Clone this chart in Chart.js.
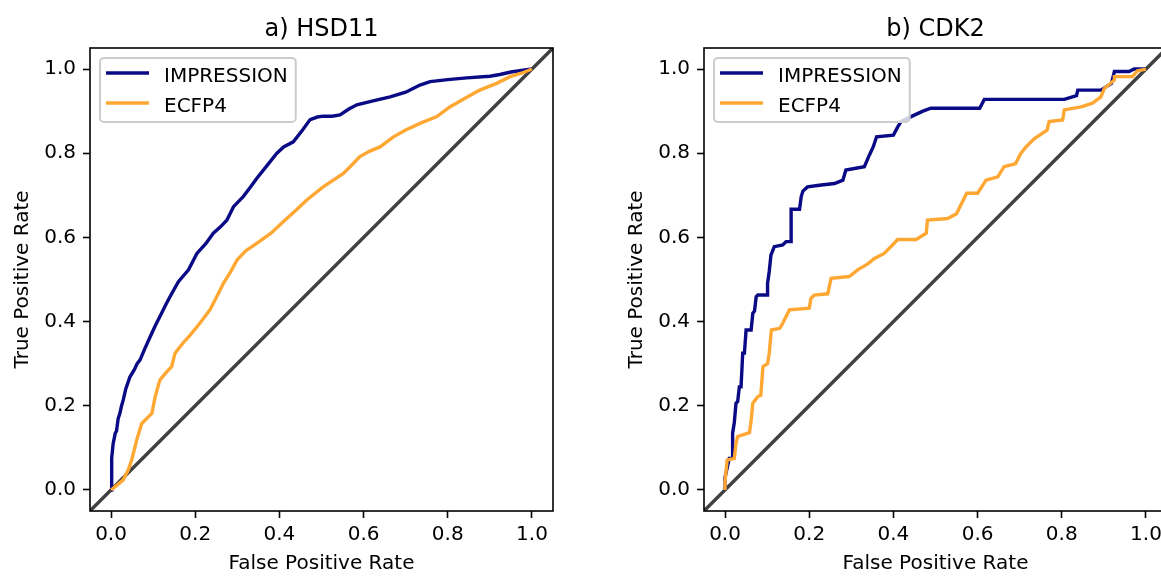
<!DOCTYPE html>
<html>
<head>
<meta charset="utf-8">
<script src="https://cdn.jsdelivr.net/npm/chart.js@4/dist/chart.umd.min.js"></script>
<style>
  html, body { margin: 0; padding: 0; background: #ffffff; overflow: hidden; width: 1161px; height: 576px; }
  canvas { position: absolute; top: 0; }
  #left { left: 0; }
  #right { left: 614px; }
</style>
</head>
<body>
<canvas id="left" width="580" height="576"></canvas>
<canvas id="right" width="580" height="576"></canvas>
<script>
// ROC curves, panel a) HSD11
const hsdImpressionFpr = [0.000, 0.001, 0.002, 0.005, 0.010, 0.013, 0.017, 0.021, 0.025, 0.029, 0.035, 0.045, 0.055, 0.062, 0.069, 0.080, 0.093, 0.105, 0.120, 0.130, 0.140, 0.160, 0.184, 0.204, 0.225, 0.243, 0.260, 0.275, 0.291, 0.314, 0.330, 0.346, 0.370, 0.394, 0.410, 0.433, 0.455, 0.473, 0.490, 0.504, 0.525, 0.544, 0.565, 0.584, 0.620, 0.663, 0.700, 0.734, 0.758, 0.800, 0.845, 0.900, 0.924, 0.950, 1.000];
const hsdImpressionTpr = [0.000, 0.040, 0.075, 0.110, 0.135, 0.140, 0.170, 0.182, 0.200, 0.214, 0.240, 0.269, 0.285, 0.300, 0.309, 0.335, 0.364, 0.390, 0.420, 0.440, 0.459, 0.495, 0.523, 0.562, 0.585, 0.610, 0.625, 0.641, 0.673, 0.697, 0.718, 0.740, 0.770, 0.800, 0.815, 0.827, 0.855, 0.880, 0.886, 0.888, 0.888, 0.891, 0.905, 0.915, 0.924, 0.934, 0.945, 0.962, 0.970, 0.975, 0.979, 0.983, 0.987, 0.993, 1.000];
const hsdEcfpFpr = [0.000, 0.015, 0.029, 0.041, 0.049, 0.055, 0.061, 0.073, 0.085, 0.097, 0.105, 0.116, 0.130, 0.144, 0.152, 0.170, 0.188, 0.211, 0.235, 0.251, 0.267, 0.285, 0.299, 0.320, 0.346, 0.380, 0.409, 0.440, 0.465, 0.504, 0.552, 0.575, 0.591, 0.615, 0.639, 0.671, 0.700, 0.734, 0.774, 0.805, 0.840, 0.876, 0.916, 0.948, 0.975, 1.000];
const hsdEcfpTpr = [0.000, 0.012, 0.024, 0.048, 0.071, 0.095, 0.119, 0.158, 0.170, 0.182, 0.222, 0.261, 0.278, 0.293, 0.325, 0.348, 0.368, 0.396, 0.428, 0.459, 0.491, 0.520, 0.546, 0.568, 0.586, 0.610, 0.637, 0.665, 0.689, 0.720, 0.752, 0.775, 0.792, 0.805, 0.815, 0.839, 0.855, 0.871, 0.887, 0.910, 0.930, 0.950, 0.966, 0.982, 0.990, 1.000];

// ROC curves, panel b) CDK2
const cdkImpressionFpr = [0.000, 0.000, 0.010, 0.018, 0.018, 0.022, 0.026, 0.030, 0.034, 0.038, 0.042, 0.046, 0.050, 0.062, 0.066, 0.070, 0.074, 0.078, 0.101, 0.101, 0.105, 0.109, 0.117, 0.137, 0.145, 0.157, 0.157, 0.177, 0.181, 0.185, 0.196, 0.224, 0.260, 0.280, 0.287, 0.331, 0.343, 0.352, 0.360, 0.400, 0.410, 0.418, 0.442, 0.470, 0.489, 0.605, 0.616, 0.806, 0.835, 0.838, 0.893, 0.918, 0.925, 0.960, 0.972, 1.000];
const cdkImpressionTpr = [0.000, 0.030, 0.075, 0.075, 0.135, 0.160, 0.206, 0.210, 0.245, 0.245, 0.325, 0.325, 0.380, 0.380, 0.420, 0.425, 0.459, 0.463, 0.463, 0.491, 0.519, 0.558, 0.578, 0.582, 0.590, 0.590, 0.667, 0.667, 0.697, 0.710, 0.720, 0.724, 0.728, 0.736, 0.760, 0.768, 0.796, 0.815, 0.839, 0.843, 0.862, 0.875, 0.887, 0.900, 0.907, 0.907, 0.928, 0.928, 0.937, 0.950, 0.950, 0.966, 0.994, 0.994, 1.000, 1.000];
const cdkEcfpFpr = [0.000, 0.000, 0.005, 0.022, 0.026, 0.030, 0.058, 0.062, 0.066, 0.078, 0.085, 0.090, 0.101, 0.105, 0.110, 0.130, 0.137, 0.145, 0.153, 0.200, 0.204, 0.212, 0.244, 0.252, 0.295, 0.315, 0.339, 0.355, 0.378, 0.398, 0.410, 0.454, 0.478, 0.481, 0.529, 0.550, 0.574, 0.600, 0.620, 0.648, 0.663, 0.690, 0.703, 0.715, 0.735, 0.765, 0.770, 0.802, 0.806, 0.846, 0.873, 0.893, 0.901, 0.925, 0.925, 0.968, 0.980, 1.000];
const cdkEcfpTpr = [0.000, 0.020, 0.071, 0.075, 0.110, 0.127, 0.136, 0.165, 0.206, 0.222, 0.225, 0.293, 0.300, 0.325, 0.380, 0.384, 0.396, 0.412, 0.428, 0.432, 0.455, 0.463, 0.466, 0.503, 0.507, 0.523, 0.537, 0.550, 0.562, 0.582, 0.595, 0.595, 0.610, 0.641, 0.645, 0.656, 0.705, 0.705, 0.736, 0.744, 0.768, 0.775, 0.800, 0.815, 0.835, 0.855, 0.875, 0.879, 0.903, 0.910, 0.919, 0.934, 0.954, 0.974, 0.982, 0.982, 0.996, 1.000];

// chance line and axis ticks
const chanceLine = [-0.05, 1.05];
const tickValues = [0.0, 0.2, 0.4, 0.6, 0.8, 1.0];
const tickLabels = ['0.0', '0.2', '0.4', '0.6', '0.8', '1.0'];
const seriesNames = ['IMPRESSION', 'ECFP4'];
const panelTitles = ['a) HSD11', 'b) CDK2'];
const xAxisLabel = 'False Positive Rate';
const yAxisLabel = 'True Positive Rate';

const FONT = 'DejaVu Sans';
const NAVY = '#0a0a86';
const ORANGE = '#ffa733';
const LINE_W = 3.4;

function toPoints(xs, ys) {
  return xs.map((x, i) => ({ x: x, y: ys[i] }));
}

// closed axes frame, panel title over the plot area, and a boxed legend
const framePlugin = {
  id: 'frameAndLegend',
  afterDatasetsDraw(chart, args, opts) {
    const ctx = chart.ctx;
    const a = chart.chartArea;
    ctx.save();
    ctx.strokeStyle = '#000000';
    ctx.lineWidth = 1.6;
    ctx.strokeRect(a.left, a.top, a.right - a.left, a.bottom - a.top);

    // panel title, centred on the plot area
    ctx.fillStyle = '#000000';
    ctx.font = '24px "' + FONT + '"';
    ctx.textAlign = 'center';
    ctx.textBaseline = 'alphabetic';
    ctx.fillText(opts.title, (a.left + a.right) / 2, a.top - 12);

    const entries = chart.data.datasets.filter(d => d.label);
    ctx.font = '20px "' + FONT + '"';
    let maxW = 0;
    entries.forEach(d => { maxW = Math.max(maxW, ctx.measureText(d.label).width); });
    const bx = a.left + 10, by = a.top + 10;
    const bw = 8 + 40 + 16 + maxW + 8, bh = 64;
    const r = 4;
    ctx.beginPath();
    ctx.moveTo(bx + r, by);
    ctx.lineTo(bx + bw - r, by);
    ctx.arcTo(bx + bw, by, bx + bw, by + r, r);
    ctx.lineTo(bx + bw, by + bh - r);
    ctx.arcTo(bx + bw, by + bh, bx + bw - r, by + bh, r);
    ctx.lineTo(bx + r, by + bh);
    ctx.arcTo(bx, by + bh, bx, by + bh - r, r);
    ctx.lineTo(bx, by + r);
    ctx.arcTo(bx, by, bx + r, by, r);
    ctx.closePath();
    ctx.fillStyle = 'rgba(255,255,255,0.8)';
    ctx.fill();
    ctx.strokeStyle = '#cccccc';
    ctx.lineWidth = 2;
    ctx.stroke();

    entries.forEach((d, i) => {
      const hy = by + 15 + i * 30;
      ctx.beginPath();
      ctx.moveTo(bx + 6, hy);
      ctx.lineTo(bx + 49, hy);
      ctx.strokeStyle = d.borderColor;
      ctx.lineWidth = LINE_W;
      ctx.stroke();
      ctx.fillStyle = '#000000';
      ctx.textBaseline = 'alphabetic';
      ctx.textAlign = 'left';
      ctx.fillText(d.label, bx + 64, by + 24 + i * 30);
    });
    ctx.restore();
  }
};

function makeAxis(isX) {
  return {
    type: 'linear',
    min: -0.05,
    max: 1.05,
    afterBuildTicks(scale) {
      scale.ticks = tickValues.map(v => ({ value: v }));
    },
    afterFit(scale) {
      if (isX) scale.height = 65; else scale.width = 90;
    },
    ticks: {
      color: '#000000',
      font: { family: FONT, size: 20, lineHeight: 1.2 },
      padding: isX ? 5 : 7,
      maxRotation: 0,
      autoSkip: false,
      callback(value) {
        const i = tickValues.indexOf(value);
        return i >= 0 ? tickLabels[i] : '';
      }
    },
    grid: {
      display: true,
      drawOnChartArea: false,
      drawTicks: true,
      tickLength: 7,
      tickColor: '#000000',
      tickWidth: 1.6
    },
    border: { display: false },
    title: {
      display: true,
      text: isX ? xAxisLabel : yAxisLabel,
      color: '#000000',
      font: { family: FONT, size: 20, lineHeight: 1.2 },
      padding: isX ? { top: 0, bottom: 0 } : { top: 10.4, bottom: 0 }
    }
  };
}

function makeChart(id, title, impFpr, impTpr, ecfpFpr, ecfpTpr) {
  return new Chart(document.getElementById(id), {
    type: 'scatter',
    data: {
      datasets: [
        {
          label: '',
          data: toPoints(chanceLine, chanceLine),
          showLine: true,
          borderColor: '#404040',
          borderWidth: LINE_W,
          pointRadius: 0,
          order: 2
        },
        {
          label: seriesNames[0],
          data: toPoints(impFpr, impTpr),
          showLine: true,
          borderColor: NAVY,
          borderWidth: LINE_W,
          pointRadius: 0,
          tension: 0,
          order: 1
        },
        {
          label: seriesNames[1],
          data: toPoints(ecfpFpr, ecfpTpr),
          showLine: true,
          borderColor: ORANGE,
          borderWidth: LINE_W,
          pointRadius: 0,
          tension: 0,
          order: 0
        }
      ]
    },
    options: {
      responsive: false,
      animation: false,
      devicePixelRatio: 1,
      events: [],
      layout: { padding: { left: 0, right: 27, top: 48, bottom: 0 } },
      scales: { x: makeAxis(true), y: makeAxis(false) },
      plugins: {
        legend: { display: false },
        tooltip: { enabled: false },
        title: { display: false },
        frameAndLegend: { title: title }
      }
    },
    plugins: [framePlugin]
  });
}

makeChart('left', panelTitles[0], hsdImpressionFpr, hsdImpressionTpr, hsdEcfpFpr, hsdEcfpTpr);
makeChart('right', panelTitles[1], cdkImpressionFpr, cdkImpressionTpr, cdkEcfpFpr, cdkEcfpTpr);
</script>
</body>
</html>
